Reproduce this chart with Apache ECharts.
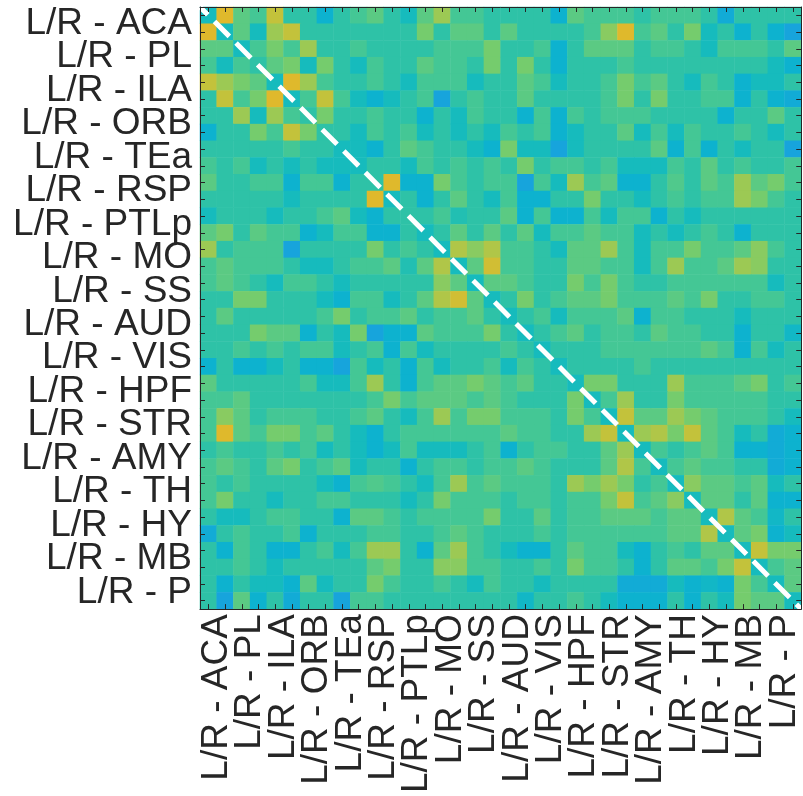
<!DOCTYPE html>
<html>
<head>
<meta charset="utf-8">
<script src="https://cdn.jsdelivr.net/npm/echarts@6/dist/echarts.min.js"></script>
<style>
html, body { margin: 0; padding: 0; background: #fff; }
#main { width: 803px; height: 796px; }
</style>
</head>
<body>
<div id="main"></div>
<script>
// regions, each one has a L and a R row/column
var regions = ['ACA', 'PL', 'ILA', 'ORB', 'TEa', 'RSP', 'PTLp', 'MO', 'SS', 'AUD', 'VIS', 'HPF', 'STR', 'AMY', 'TH', 'HY', 'MB', 'P'];

// lower triangle of the symmetric matrix, colour level 0 (blue) .. 9 (gold)
var tri = [
	[2],
	[9, 2],
	[5, 5, 2],
	[4, 2, 4, 3],
	[8, 7, 6, 5, 2],
	[3, 8, 4, 6, 9, 2],
	[3, 3, 7, 2, 7, 4, 3],
	[1, 3, 3, 6, 4, 8, 6, 3],
	[3, 3, 3, 3, 3, 4, 3, 3, 2],
	[4, 3, 4, 2, 3, 2, 3, 2, 2, 2],
	[5, 3, 3, 4, 4, 1, 4, 4, 1, 3, 3],
	[3, 3, 3, 3, 3, 2, 3, 3, 3, 3, 9, 2],
	[2, 3, 3, 3, 2, 3, 3, 4, 5, 2, 1, 3, 3],
	[5, 6, 3, 5, 4, 4, 1, 2, 4, 4, 1, 1, 3, 2],
	[7, 3, 4, 4, 4, 0, 3, 3, 3, 3, 6, 3, 4, 3, 2],
	[4, 5, 4, 4, 4, 3, 2, 2, 3, 4, 4, 5, 2.5, 5, 7.5, 2],
	[4, 5, 4, 3, 2, 4, 4, 3, 2, 3, 3, 3, 3, 3, 6.5, 5, 2],
	[3, 3, 6, 6, 3, 3, 3, 2, 1, 4, 4, 2, 3, 5, 7.5, 8.5, 5, 2],
	[3, 5, 3, 3, 3, 3, 3, 4, 6, 3, 4, 4, 5, 3, 4, 4, 5, 3, 2],
	[3, 3, 3, 6, 5, 5, 1, 3, 2, 6, 0, 1, 1, 5, 4, 4, 4, 6, 3, 2],
	[3, 3, 4, 3, 4, 3, 4, 4, 2, 3, 4, 1, 4, 2, 3, 3, 3, 3, 4, 3, 2],
	[1, 3, 1, 1, 2, 3, 1, 1, 0, 4, 2, 3, 1, 4, 2, 3, 3, 4, 2, 4, 3, 2],
	[5, 3, 3, 3, 3, 3, 4, 2, 2, 4, 7, 3, 1, 4, 5, 5, 6, 5, 4, 5, 3, 3, 2],
	[4, 4, 5, 3, 3, 3, 3, 3, 3, 3, 4, 6, 4, 5, 5, 5, 4, 5, 4, 3, 3, 3, 6, 2],
	[4, 6.5, 5, 3, 4, 4, 4, 3, 3, 4, 5, 3, 2, 4, 7, 4, 6, 6, 4, 4, 4, 3, 6, 4, 2],
	[4, 9, 5, 4, 6, 6, 4, 5, 3, 2, 1, 3, 4, 4, 4, 4, 4, 4, 5, 4, 4, 3, 3, 7, 8, 2],
	[3, 4, 3, 3, 4, 3, 4, 2, 3, 2, 1, 2, 4, 2, 2, 2, 3, 4, 1, 3, 4, 4, 3, 3, 5, 7, 2],
	[4, 5, 4, 3, 5, 6, 3, 4, 5, 2, 3, 3, 1, 3, 4, 4, 3, 4, 4, 5, 4, 3, 3, 3, 5, 7.5, 4, 2],
	[4, 3, 4, 3, 3, 3, 3, 2, 1, 4, 4.5, 4, 3, 2, 4, 7, 4, 5, 4, 4, 4, 3, 7, 6, 7, 6, 3, 4, 2],
	[4, 6, 3, 3, 2, 3, 3, 4, 4, 3, 3, 3, 2, 3, 6, 4, 4, 4, 3, 4, 4, 3, 4, 4, 6, 8, 4, 5, 6.5, 2],
	[3, 2, 2, 3, 4, 4, 3, 3, 1, 5, 5, 4, 3, 4, 4, 4, 4, 6, 3, 3, 5, 3, 4, 4, 5, 5, 5, 4, 5, 5, 2],
	[0.5, 3, 4, 3, 3, 4, 1, 3, 3, 3, 4, 4, 3, 3, 4, 5, 4, 3, 3, 3, 4, 3, 4, 4, 4, 4, 4, 4, 5, 5, 7.5, 2],
	[3, 1, 4, 3, 1, 1, 3, 4, 2, 4, 7, 7, 3, 1, 5, 7, 4, 3, 2, 1, 1, 3, 5, 4, 4, 2, 1, 3, 4, 3, 5, 5, 2],
	[3, 3, 4, 3, 2, 3, 3, 3, 3, 3, 5, 6, 3, 3, 6.5, 6.5, 4, 4, 3, 3, 4, 3, 6, 4, 4, 3, 1, 3, 5, 5, 4, 6, 8, 2],
	[3, 1, 3, 2, 2, 1, 5, 2, 3, 3, 6, 4, 3, 3, 4, 3, 2, 4, 3, 3, 2, 3, 3, 3, 3, 0.5, 0.5, 0.5, 2, 1, 1.5, 1, 6, 4, 2],
	[3, 0, 5, 1, 3, 0.5, 3, 3, 0, 4, 4, 3, 3, 3, 3, 3, 3, 3, 3, 1.5, 3, 3, 4, 3, 2, 1, 1, 1, 3, 1, 3, 2, 6, 5, 5, 2]
];

// parula-like colours for the levels 0..9
var levelColors = ['#17a4dc', '#0db2cf', '#16bbbd', '#2ec2a7', '#44c795', '#5bca83', '#75cc6d', '#9cc954', '#c3c23b', '#dfb92c'];
var axisColor = '#262626';

var n = regions.length * 2;
var idx = [];
var cells = [];
for (var i = 0; i < n; i++) {
	idx.push(i);
	for (var j = 0; j < n; j++) {
		var v = j <= i ? tri[i][j] : tri[j][i];
		cells.push([j, i, v]);
	}
}
var labels = regions.map(function (r) { return 'L/R - ' + r; });

// box axis: a tick in the middle of every cell, no labels
function frameAxis(position, inverse) {
	return {
		type: 'category',
		data: idx,
		position: position,
		inverse: inverse,
		z: 10,
		axisLine: { show: true, onZero: false, lineStyle: { color: axisColor, width: 1 } },
		axisTick: { show: true, inside: true, length: 5, interval: 0, alignWithLabel: true, lineStyle: { color: axisColor, width: 1 } },
		axisLabel: { show: false },
		splitLine: { show: false }
	};
}

// label axis: one label per region, centred between its L and R cells
function labelAxis(position, inverse) {
	var vertical = position === 'left';
	return {
		type: 'category',
		data: labels,
		position: position,
		inverse: inverse,
		axisLine: { show: false },
		axisTick: { show: false },
		axisLabel: {
			interval: 0,
			rotate: vertical ? 0 : 90,
			margin: vertical ? 8 : 5,
			padding: vertical ? [6, 0, 0, 0] : [0, 0, 6, 0],
			color: axisColor,
			fontSize: 37,
			fontFamily: 'Liberation Sans'
		},
		splitLine: { show: false }
	};
}

var myChart = echarts.init(document.getElementById('main'));
myChart.setOption({
	animation: false,
	backgroundColor: '#fff',
	grid: { left: 200, top: 7, width: 602, height: 603 },
	xAxis: [
		frameAxis('bottom', false),
		frameAxis('top', false),
		labelAxis('bottom', false),
		{ type: 'value', min: 0, max: n, show: false }
	],
	yAxis: [
		frameAxis('left', true),
		frameAxis('right', true),
		labelAxis('left', true),
		{ type: 'value', min: 0, max: n, show: false, inverse: true }
	],
	visualMap: {
		show: false,
		min: 0,
		max: 9,
		seriesIndex: 0,
		dimension: 2,
		inRange: { color: levelColors }
	},
	series: [
		{
			type: 'heatmap',
			xAxisIndex: 0,
			yAxisIndex: 0,
			data: cells,
			progressive: 0,
			itemStyle: { borderWidth: 0 },
			emphasis: { disabled: true }
		},
		{
			// dashed diagonal
			type: 'line',
			xAxisIndex: 3,
			yAxisIndex: 3,
			data: [[0, 0], [n, n]],
			symbol: 'none',
			silent: true,
			z: 5,
			lineStyle: { color: '#fff', width: 5, type: [21, 9.5], dashOffset: 10, cap: 'butt' }
		}
	]
});
</script>
</body>
</html>
